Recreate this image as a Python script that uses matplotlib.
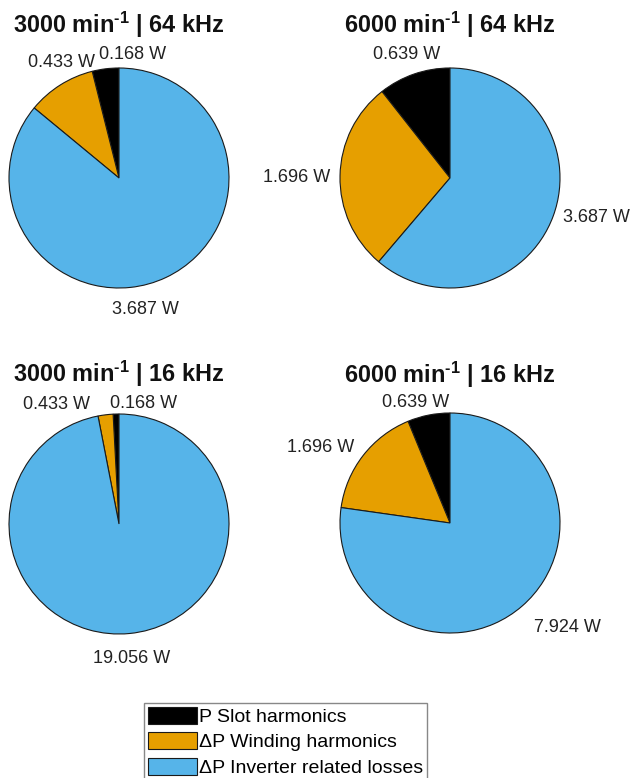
import numpy as np
import matplotlib
matplotlib.use("Agg")
import matplotlib.pyplot as plt
from matplotlib.patches import Patch

plt.rcParams["font.family"] = ["Liberation Sans", "DejaVu Sans"]
plt.rcParams["mathtext.fontset"] = "custom"
plt.rcParams["mathtext.rm"] = "Liberation Sans"
plt.rcParams["mathtext.bf"] = "Liberation Sans:bold"
plt.rcParams["mathtext.it"] = "Liberation Sans:italic"

# ---- data -------------------------------------------------------------
components = ["P Slot harmonics", "\u0394P Winding harmonics", "\u0394P Inverter related losses"]
speeds = ["3000", "6000", "3000", "6000"]
frequencies = ["64 kHz", "64 kHz", "16 kHz", "16 kHz"]

slot_losses = [0.168, 0.639, 0.168, 0.639]        # W
winding_losses = [0.433, 1.696, 0.433, 1.696]     # W
inverter_losses = [3.687, 3.687, 19.056, 7.924]   # W

# ---- style / layout ---------------------------------------------------
colors = ["#000000", "#E69F00", "#56B4E9"]
W_PX, H_PX, DPI = 631, 778, 100
R_PX = 110
centers_px = [(119, 178), (450, 178), (119, 524), (450, 523)]
title_baseline_px = [33, 33, 382, 383]
# label nudges (dx right, dy down) in pixels, per pie and per wedge
label_nudge_px = [
    [(30, 8), (13, -4), (-30, 12)],
    [(0, 1), (-21, 2), (23, -6)],
    [(28, 11), (-46, 12), (0, 3)],
    [(-9, 9), (-25, 5), (31, 5)],
]

fig = plt.figure(figsize=(W_PX / DPI, H_PX / DPI), dpi=DPI)
fig.patch.set_facecolor("white")

for k in range(4):
    cx, cy = centers_px[k]
    ax = fig.add_axes([(cx - R_PX) / W_PX, 1 - (cy + R_PX) / H_PX,
                       2 * R_PX / W_PX, 2 * R_PX / H_PX])
    vals = [slot_losses[k], winding_losses[k], inverter_losses[k]]
    wedges, _ = ax.pie(vals, colors=colors, startangle=90, counterclock=True,
                       radius=1.0, wedgeprops=dict(edgecolor="#1a1a1a", linewidth=0.8))
    ax.set_xlim(-1, 1)
    ax.set_ylim(-1, 1)
    ax.axis("off")
    for j, (w, v) in enumerate(zip(wedges, vals)):
        mid = np.deg2rad((w.theta1 + w.theta2) / 2)
        dx, dy = label_nudge_px[k][j]
        x = 1.2 * np.cos(mid) + dx / R_PX
        y = 1.2 * np.sin(mid) - dy / R_PX
        ax.text(x, y, f"{v:.3f} W", ha="center", va="center", fontsize=13,
                color="#222222", clip_on=False)
    fig.text(cx / W_PX, 1 - title_baseline_px[k] / H_PX,
             speeds[k] + " min$^{\\mathbf{\u2010}\\mathbf{1}}$ | " + frequencies[k],
             ha="center", va="baseline", fontsize=16.9, fontweight="bold",
             color="#111111")

handles = [Patch(facecolor=c, edgecolor="#1a1a1a", linewidth=0.8) for c in colors]
leg = fig.legend(handles, components, loc="upper left",
                 bbox_to_anchor=(144 / W_PX, 1 - 703 / H_PX),
                 fontsize=14, frameon=True, fancybox=False, shadow=False,
                 edgecolor="#888888", framealpha=1, borderaxespad=0,
                 borderpad=0.2, handlelength=2.5, handleheight=0.95,
                 handletextpad=0.15, labelspacing=0.33)
leg.get_frame().set_linewidth(1.0)

fig.savefig("out.png", dpi=DPI, facecolor="white")
